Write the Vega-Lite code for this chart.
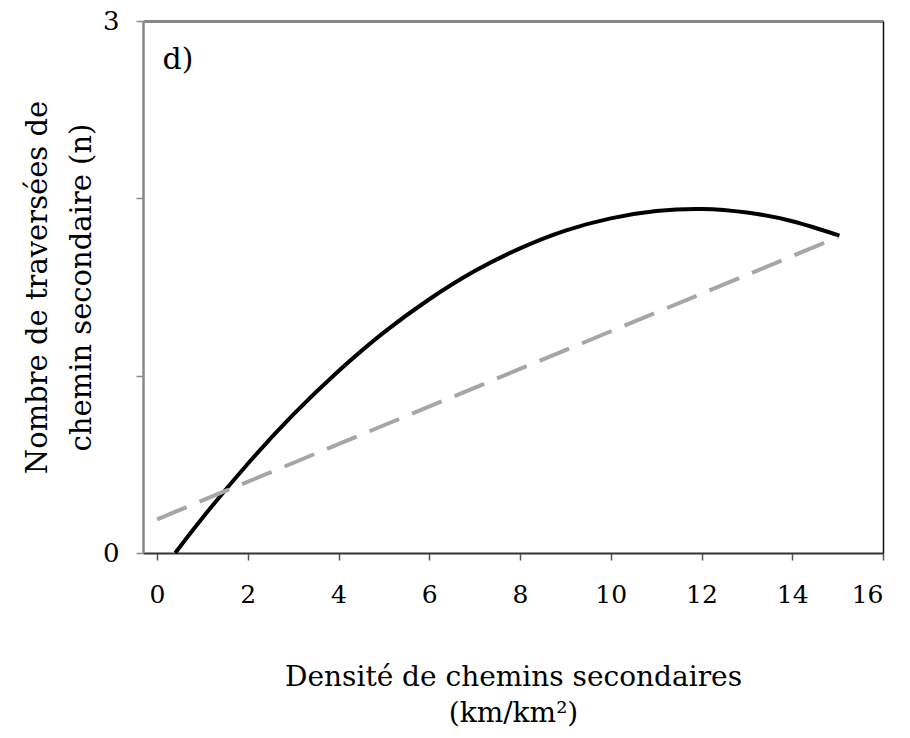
{
  "$schema": "https://vega.github.io/schema/vega-lite/v6.json",
  "width": 740,
  "height": 532,
  "autosize": {"type": "none"},
  "padding": {"left": 143, "top": 21, "right": 27, "bottom": 185},
  "background": "white",
  "config": {
    "view": {"stroke": null},
    "font": "DejaVu Serif"
  },
  "datasets": {
    "curve": [
      {"x": 0.40, "y": 0.0},
      {"x": 1, "y": 0.198},
      {"x": 2, "y": 0.503},
      {"x": 3, "y": 0.780},
      {"x": 4, "y": 1.026},
      {"x": 5, "y": 1.244},
      {"x": 6, "y": 1.431},
      {"x": 7, "y": 1.590},
      {"x": 8, "y": 1.718},
      {"x": 9, "y": 1.818},
      {"x": 10, "y": 1.887},
      {"x": 11, "y": 1.928},
      {"x": 12, "y": 1.940},
      {"x": 13, "y": 1.920},
      {"x": 14, "y": 1.871},
      {"x": 15.04, "y": 1.79}
    ],
    "linear": [
      {"x": 0.0, "y": 0.19},
      {"x": 15.0, "y": 1.78}
    ],
    "label": [
      {"x": 0.46, "y": 2.78, "t": "d)"}
    ]
  },
  "layer": [
    {
      "data": {"name": "curve"},
      "mark": {"type": "line", "color": "black", "strokeWidth": 4, "interpolate": "natural"},
      "encoding": {
        "x": {
          "field": "x", "type": "quantitative",
          "scale": {"domain": [-0.31, 16], "nice": false, "zero": false},
          "axis": {
            "orient": "bottom",
            "values": [0, 2, 4, 6, 8, 10, 12, 14, 16],
            "grid": false,
            "domainColor": "#333333", "domainWidth": 2,
            "tickColor": "#555555", "tickSize": 7, "tickWidth": 1.5,
            "labelFont": "DejaVu Serif", "labelFontSize": 25, "labelColor": "black",
            "labelPadding": 22,
            "title": ["Densité de chemins secondaires", "(km/km²)"],
            "titleFont": "DejaVu Serif", "titleFontSize": 28, "titleFontWeight": "normal",
            "titleColor": "black", "titlePadding": 56, "titleLineHeight": 36
          }
        },
        "y": {
          "field": "y", "type": "quantitative",
          "scale": {"domain": [0, 3], "nice": false},
          "axis": {
            "orient": "left",
            "values": [0, 1, 2, 3],
            "labelExpr": "datum.value == 0 || datum.value == 3 ? datum.label : ''",
            "grid": false,
            "domainColor": "#888888", "domainWidth": 2.5,
            "tickColor": "#888888", "tickSize": 7, "tickWidth": 1.5,
            "labelFont": "DejaVu Serif", "labelFontSize": 26, "labelColor": "black",
            "labelPadding": 17,
            "title": ["Nombre de traversées de", "chemin secondaire (n)"],
            "titleFont": "DejaVu Serif", "titleFontSize": 29, "titleFontWeight": "normal",
            "titleColor": "black", "titlePadding": 6, "titleLineHeight": 44
          }
        }
      }
    },
    {
      "data": {"name": "linear"},
      "mark": {"type": "line", "color": "#a6a6a6", "strokeWidth": 4, "strokeDash": [32, 14]},
      "encoding": {
        "x": {
          "field": "x", "type": "quantitative",
          "scale": {"domain": [-0.31, 16], "nice": false, "zero": false},
          "axis": {"orient": "top", "ticks": false, "labels": false, "title": null, "grid": false,
                   "domainColor": "#888888", "domainWidth": 3}
        },
        "y": {
          "field": "y", "type": "quantitative",
          "scale": {"domain": [0, 3], "nice": false},
          "axis": {"orient": "right", "ticks": false, "labels": false, "title": null, "grid": false,
                   "domainColor": "#111111", "domainWidth": 1.5}
        }
      }
    },
    {
      "data": {"name": "label"},
      "mark": {"type": "text", "font": "DejaVu Serif", "fontSize": 30, "color": "black", "align": "center", "baseline": "middle"},
      "encoding": {
        "x": {"field": "x", "type": "quantitative", "scale": {"domain": [-0.31, 16], "nice": false, "zero": false}, "axis": null},
        "y": {"field": "y", "type": "quantitative", "scale": {"domain": [0, 3], "nice": false}, "axis": null},
        "text": {"field": "t"}
      }
    }
  ],
  "resolve": {"scale": {"x": "independent", "y": "independent"}, "axis": {"x": "independent", "y": "independent"}}
}
